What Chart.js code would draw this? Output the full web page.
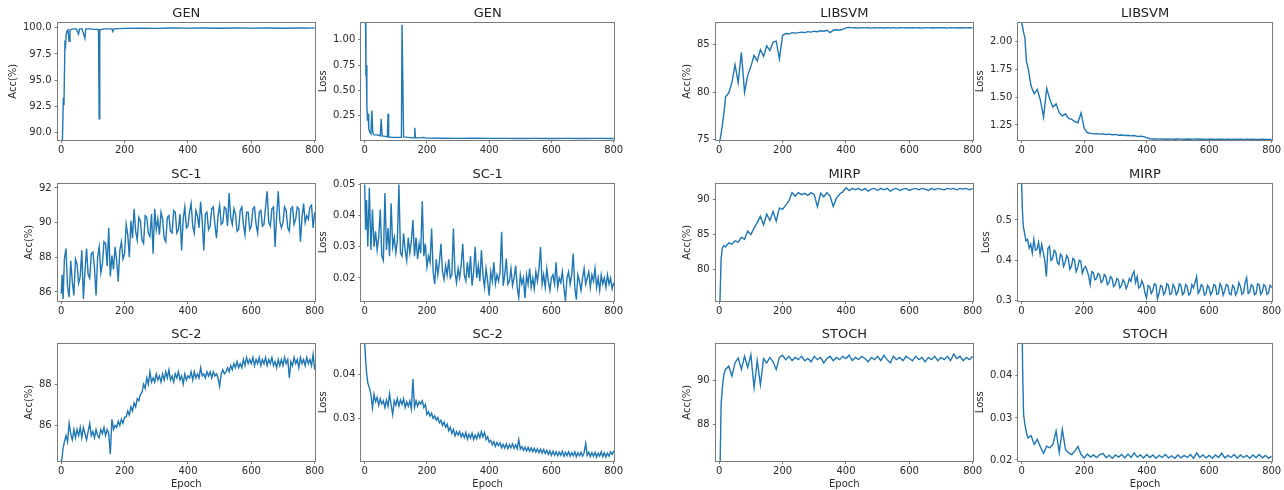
<!DOCTYPE html>
<html>
<head>
<meta charset="utf-8">
<script src="https://cdn.jsdelivr.net/npm/chart.js@4.4.1/dist/chart.umd.min.js"></script>
<style>
  html, body { margin: 0; padding: 0; background: #fff; }
  #page { position: relative; width: 1284px; height: 490px; overflow: hidden; }
  #page canvas { position: absolute; }
</style>
</head>
<body>
<div id="page"></div>
<script>
// ---- data ----
const xTicks = ['0', '200', '400', '600', '800'];

// epoch grid, 10 apart
const epochs = [0, 3, 6, 10, 15, 20,
  30, 40, 50, 60, 70, 80, 90, 100,
  110, 120, 130, 140, 150, 160, 170, 180, 190, 200,
  210, 220, 230, 240, 250, 260, 270, 280, 290, 300,
  310, 320, 330, 340, 350, 360, 370, 380, 390, 400,
  410, 420, 430, 440, 450, 460, 470, 480, 490, 500,
  510, 520, 530, 540, 550, 560, 570, 580, 590, 600,
  610, 620, 630, 640, 650, 660, 670, 680, 690, 700,
  710, 720, 730, 740, 750, 760, 770, 780, 790, 800];

// epoch grid, 5 apart (for the noisiest runs)
const epochsFine = [0, 3, 6, 10, 15, 20,
  25, 30, 35, 40, 45, 50, 55, 60, 65, 70, 75, 80, 85, 90, 95, 100,
  105, 110, 115, 120, 125, 130, 135, 140, 145, 150, 155, 160, 165, 170, 175, 180, 185, 190, 195, 200,
  205, 210, 215, 220, 225, 230, 235, 240, 245, 250, 255, 260, 265, 270, 275, 280, 285, 290, 295, 300,
  305, 310, 315, 320, 325, 330, 335, 340, 345, 350, 355, 360, 365, 370, 375, 380, 385, 390, 395, 400,
  405, 410, 415, 420, 425, 430, 435, 440, 445, 450, 455, 460, 465, 470, 475, 480, 485, 490, 495, 500,
  505, 510, 515, 520, 525, 530, 535, 540, 545, 550, 555, 560, 565, 570, 575, 580, 585, 590, 595, 600,
  605, 610, 615, 620, 625, 630, 635, 640, 645, 650, 655, 660, 665, 670, 675, 680, 685, 690, 695, 700,
  705, 710, 715, 720, 725, 730, 735, 740, 745, 750, 755, 760, 765, 770, 775, 780, 785, 790, 795, 800];

// GEN
const genAccEpochs = [0, 4, 7, 9, 12, 14, 16, 19, 22, 25, 28, 32, 40, 48, 55, 58, 66, 75, 78, 90,
  105, 118, 120, 122, 135, 150, 160, 163, 166, 180, 200, 250, 300, 350, 400, 450, 500, 550, 600, 650,
  700, 750, 800];
const genAcc = [60, 89, 93.3, 92.6, 98.5, 98.3, 99.4, 99.7, 99.8, 98.7, 99.8, 99.85, 99.9, 99.9, 99.4, 99.9, 99.9, 99.0, 99.9, 99.9,
  99.85, 99.85, 91.3, 99.8, 99.9, 99.9, 99.9, 99.65, 99.9, 99.92, 99.95, 99.97, 99.95, 99.98, 99.97, 99.98, 99.96, 99.98, 99.97, 99.98,
  99.96, 99.98, 99.97];
const genAccTicks = ['90.0', '92.5', '95.0', '97.5', '100.0'];

const genLossEpochs = [0, 2, 4, 5, 7, 9, 11, 13, 16, 20, 23, 26, 30, 40, 50, 53, 56, 65, 73, 75,
  77, 90, 105, 116, 118, 120, 125, 140, 155, 159, 161, 163, 175, 190, 195, 200, 250, 300, 350, 400,
  450, 500, 550, 600, 650, 700, 750, 800];
const genLoss = [2.5, 1.5, 0.64, 0.75, 0.35, 0.2, 0.27, 0.12, 0.09, 0.07, 0.30, 0.08, 0.06, 0.06, 0.05, 0.22, 0.05, 0.045, 0.04, 0.27,
  0.04, 0.035, 0.035, 0.035, 0.035, 1.15, 0.04, 0.035, 0.03, 0.03, 0.13, 0.03, 0.03, 0.035, 0.03, 0.028, 0.026, 0.025, 0.026, 0.025,
  0.025, 0.024, 0.025, 0.024, 0.025, 0.024, 0.025, 0.024];
const genLossTicks = ['0.25', '0.50', '0.75', '1.00'];

// LIBSVM
const libAcc = [74.5, 75.0, 75.6, 76.5, 77.8, 79.5,
  79.9, 81.0, 82.9, 81.0, 84.2, 80.0, 81.8, 82.7,
  83.9, 83.3, 84.5, 83.8, 84.9, 84.4, 85.3, 85.4, 83.5, 86.0,
  86.2, 86.15, 86.3, 86.25, 86.3, 86.35, 86.3, 86.4, 86.35, 86.45,
  86.4, 86.5, 86.45, 86.55, 86.3, 86.55, 86.6, 86.55, 86.65, 86.8,
  86.85, 86.8, 86.82, 86.78, 86.83, 86.8, 86.82, 86.78, 86.83, 86.8,
  86.82, 86.79, 86.83, 86.8, 86.82, 86.78, 86.83, 86.8, 86.82, 86.79,
  86.83, 86.8, 86.82, 86.78, 86.83, 86.8, 86.82, 86.79, 86.83, 86.8,
  86.82, 86.78, 86.83, 86.8, 86.82, 86.79, 86.83, 86.8, 86.82, 86.8];
const libAccTicks = ['75', '80', '85'];

const libLoss = [2.17, 2.13, 2.08, 2.04, 1.82, 1.77,
  1.60, 1.53, 1.57, 1.47, 1.32, 1.58, 1.48, 1.41,
  1.44, 1.36, 1.33, 1.35, 1.31, 1.30, 1.28, 1.27, 1.36, 1.22,
  1.18, 1.175, 1.17, 1.172, 1.168, 1.17, 1.165, 1.168, 1.162, 1.165,
  1.158, 1.16, 1.155, 1.158, 1.152, 1.155, 1.148, 1.15, 1.145, 1.136,
  1.126, 1.124, 1.125, 1.123, 1.124, 1.122, 1.124, 1.123, 1.122, 1.124,
  1.123, 1.122, 1.124, 1.122, 1.123, 1.124, 1.122, 1.123, 1.121, 1.123,
  1.122, 1.121, 1.123, 1.122, 1.121, 1.122, 1.121, 1.122, 1.121, 1.122,
  1.121, 1.122, 1.121, 1.122, 1.121, 1.121, 1.122, 1.121, 1.121, 1.121];
const libLossTicks = ['1.25', '1.50', '1.75', '2.00'];

// SC-1 (on epochsFine)
const sc1Acc = [85.9, 87.0, 85.6, 87.9, 88.5, 86.3,
  85.7, 87.8, 86.6, 85.8, 87.9, 87.6, 86.5, 86.9, 88.4, 85.6, 87.2, 88.5, 87.0, 86.8, 88.2, 88.3,
  87.4, 85.8, 88.0, 88.6, 87.1, 87.6, 88.9, 88.8, 87.5, 89.7, 86.9, 88.1, 87.3, 88.6, 87.8, 86.6, 88.4, 88.9, 87.9, 88.2,
  89.9, 89.3, 88.0, 90.1, 89.1, 90.8, 89.5, 89.0, 90.3, 90.1, 89.0, 88.8, 90.4, 90.3, 89.4, 89.2, 90.5, 88.2, 90.8, 89.6,
  90.2, 89.3, 90.6, 90.2, 89.1, 88.9, 90.3, 90.4, 89.5, 89.4, 90.7, 90.6, 89.4, 89.6, 90.5, 88.4, 90.2, 90.9, 89.7, 89.8,
  90.6, 91.1, 89.8, 89.4, 90.7, 90.4, 89.7, 91.2, 90.1, 88.4, 90.5, 90.6, 89.6, 89.8, 90.8, 90.9, 89.9, 89.1, 90.4, 91.0,
  89.9, 90.0, 90.9, 90.8, 89.8, 91.7, 90.3, 89.9, 90.8, 90.5, 89.5, 89.6, 90.7, 90.9, 89.9, 89.3, 90.6, 90.6, 89.6, 89.8,
  90.8, 90.9, 89.9, 89.4, 90.6, 90.7, 89.8, 89.9, 90.9, 91.8, 90.0, 89.8, 90.8, 90.9, 88.6, 90.4, 91.8, 90.1, 89.7, 90.0,
  90.9, 90.7, 89.7, 89.5, 90.8, 90.9, 89.9, 90.2, 90.9, 90.8, 88.9, 90.3, 91.1, 90.0, 90.4, 90.2, 90.9, 91.0, 89.7, 90.6];
const sc1AccTicks = ['86', '88', '90', '92'];

const sc1Loss = [0.0500, 0.0354, 0.0450, 0.0300, 0.0490, 0.0290,
  0.0420, 0.0300, 0.0350, 0.0290, 0.0330, 0.0420, 0.0270, 0.0256, 0.0473, 0.0290, 0.0360, 0.0270, 0.0440, 0.0300, 0.0330, 0.0280,
  0.0320, 0.0500, 0.0280, 0.0270, 0.0343, 0.0290, 0.0256, 0.0330, 0.0280, 0.0320, 0.0386, 0.0270, 0.0330, 0.0260, 0.0310, 0.0280, 0.0446, 0.0270, 0.0310, 0.0235,
  0.0270, 0.0250, 0.0359, 0.0220, 0.0180, 0.0260, 0.0210, 0.0250, 0.0310, 0.0220, 0.0195, 0.0240, 0.0210, 0.0260, 0.0200, 0.0210, 0.0359, 0.0220, 0.0185, 0.0230,
  0.0200, 0.0240, 0.0310, 0.0210, 0.0190, 0.0250, 0.0200, 0.0270, 0.0175, 0.0220, 0.0300, 0.0200, 0.0240, 0.0190, 0.0290, 0.0210, 0.0170, 0.0230, 0.0190, 0.0143,
  0.0220, 0.0190, 0.0250, 0.0180, 0.0210, 0.0190, 0.0220, 0.0348, 0.0175, 0.0210, 0.0262, 0.0180, 0.0190, 0.0230, 0.0175, 0.0200, 0.0240, 0.0170, 0.0137, 0.0210,
  0.0180, 0.0200, 0.0135, 0.0210, 0.0180, 0.0230, 0.0170, 0.0200, 0.0165, 0.0220, 0.0190, 0.0230, 0.0300, 0.0180, 0.0210, 0.0170, 0.0230, 0.0190, 0.0160, 0.0200,
  0.0210, 0.0180, 0.0250, 0.0170, 0.0200, 0.0185, 0.0220, 0.0170, 0.0126, 0.0200, 0.0220, 0.0180, 0.0210, 0.0278, 0.0170, 0.0130, 0.0210, 0.0190, 0.0160, 0.0200,
  0.0230, 0.0180, 0.0200, 0.0220, 0.0170, 0.0210, 0.0190, 0.0230, 0.0170, 0.0200, 0.0160, 0.0210, 0.0180, 0.0200, 0.0170, 0.0210, 0.0180, 0.0200, 0.0165, 0.0185];
const sc1LossTicks = ['0.02', '0.03', '0.04', '0.05'];

// MIRP
const mirpAcc = [72, 76.5, 81.5, 83.1, 83.4, 83.2,
  83.8, 83.6, 84.1, 83.9, 84.6, 84.3, 85.5, 85.0,
  85.9, 86.7, 87.6, 86.4, 87.9, 87.0, 88.3, 86.9, 88.8, 88.6,
  89.2, 89.8, 91.0, 90.5, 91.0, 90.7, 90.9, 90.6, 91.0, 90.7,
  89.0, 90.9, 90.4, 91.0, 90.5, 89.0, 90.2, 90.8, 91.1, 91.7,
  91.3, 91.6, 91.4, 91.6, 91.3, 91.6, 91.2, 91.5, 91.6, 91.3,
  91.6, 91.4, 91.6, 91.2, 91.5, 91.6, 91.3, 91.5, 91.6, 91.3,
  91.5, 91.6, 91.4, 91.6, 91.5, 91.3, 91.6, 91.4, 91.6, 91.5,
  91.4, 91.6, 91.5, 91.6, 91.4, 91.6, 91.5, 91.6, 91.4, 91.6];
const mirpAccTicks = ['80', '85', '90'];

// (on epochsFine)
const mirpLoss = [0.620, 0.532, 0.485, 0.469, 0.448, 0.452,
  0.430, 0.440, 0.418, 0.452, 0.425, 0.428, 0.445, 0.415, 0.440, 0.420, 0.400, 0.360, 0.430, 0.435, 0.400, 0.405,
  0.425, 0.420, 0.395, 0.390, 0.415, 0.410, 0.385, 0.395, 0.412, 0.405, 0.378, 0.385, 0.405, 0.400, 0.372, 0.382, 0.400, 0.398, 0.368, 0.380,
  0.385, 0.375, 0.362, 0.340, 0.372, 0.370, 0.352, 0.355, 0.368, 0.365, 0.345, 0.350, 0.365, 0.360, 0.340, 0.345, 0.360, 0.355, 0.335, 0.340,
  0.355, 0.352, 0.332, 0.338, 0.352, 0.345, 0.330, 0.340, 0.355, 0.348, 0.365, 0.373, 0.345, 0.360, 0.332, 0.335, 0.350, 0.340, 0.320, 0.307,
  0.338, 0.335, 0.318, 0.325, 0.342, 0.340, 0.305, 0.318, 0.338, 0.335, 0.315, 0.322, 0.342, 0.338, 0.316, 0.318, 0.340, 0.333, 0.315, 0.322,
  0.342, 0.338, 0.315, 0.320, 0.340, 0.335, 0.314, 0.318, 0.340, 0.332, 0.345, 0.360, 0.318, 0.325, 0.340, 0.336, 0.314, 0.318, 0.338, 0.332,
  0.315, 0.322, 0.340, 0.338, 0.316, 0.318, 0.342, 0.334, 0.314, 0.325, 0.340, 0.338, 0.318, 0.315, 0.338, 0.333, 0.314, 0.322, 0.345, 0.336,
  0.316, 0.320, 0.345, 0.357, 0.318, 0.322, 0.340, 0.336, 0.315, 0.318, 0.342, 0.340, 0.316, 0.322, 0.340, 0.336, 0.316, 0.320, 0.338, 0.333];
const mirpLossTicks = ['0.3', '0.4', '0.5'];

// SC-2 (on epochsFine)
const sc2Acc = [84.2, 84.5, 84.9, 85.2, 85.5, 85.2,
  86.1, 85.6, 85.3, 85.8, 85.4, 85.8, 85.5, 85.9, 85.4, 85.9, 85.6, 85.3, 85.7, 86.1, 85.5, 85.7,
  85.4, 85.8, 85.5, 85.4, 85.8, 85.6, 85.9, 85.5, 85.8, 85.6, 84.6, 86.3, 85.8, 86.0, 85.9, 86.2, 86.0, 86.3, 86.1, 86.4,
  86.4, 86.7, 86.5, 86.9, 86.7, 87.1, 86.9, 87.3, 87.2, 87.5, 87.6, 88.0, 87.8, 88.3, 88.0, 88.6, 88.1, 88.3, 88.1, 88.5,
  88.2, 88.4, 88.1, 88.5, 88.2, 88.6, 88.3, 88.7, 88.2, 88.4, 88.1, 88.5, 88.3, 88.6, 88.2, 88.4, 88.0, 88.5, 88.2, 88.4,
  88.3, 88.6, 88.2, 88.6, 88.3, 88.5, 88.3, 88.8, 88.4, 88.5, 88.3, 88.6, 88.4, 88.6, 88.3, 88.6, 88.4, 88.5, 88.3, 87.9,
  88.5, 88.7, 88.5, 88.6, 88.8, 88.6, 88.9, 88.7, 89.0, 88.8, 89.1, 88.8, 89.0, 88.8, 89.2, 88.9, 89.3, 89.0, 89.2, 89.0,
  89.3, 88.9, 89.2, 89.0, 89.3, 88.9, 89.2, 89.0, 89.3, 88.9, 89.2, 89.0, 89.3, 88.9, 89.1, 88.8, 89.2, 88.9, 89.2, 88.9,
  89.3, 89.0, 89.2, 88.3, 89.1, 88.9, 89.3, 89.0, 89.2, 88.8, 89.3, 89.0, 89.2, 88.9, 89.3, 89.0, 89.2, 88.9, 89.45, 88.7];
const sc2AccTicks = ['86', '88'];

const sc2Loss = [0.0470, 0.0434, 0.0404, 0.0381, 0.0370, 0.0355,
  0.0324, 0.0355, 0.0338, 0.0348, 0.0330, 0.0345, 0.0333, 0.0340, 0.0325, 0.0342, 0.0328, 0.0356, 0.0330, 0.0309, 0.0340, 0.0330,
  0.0345, 0.0328, 0.0342, 0.0332, 0.0345, 0.0325, 0.0338, 0.0328, 0.0340, 0.0322, 0.0390, 0.0325, 0.0340, 0.0328, 0.0338, 0.0333, 0.0340, 0.0325, 0.0332, 0.0309,
  0.0315, 0.0305, 0.0312, 0.0300, 0.0306, 0.0296, 0.0302, 0.0290, 0.0296, 0.0284, 0.0292, 0.0280, 0.0287, 0.0272, 0.0280, 0.0266, 0.0275, 0.0260, 0.0270, 0.0262,
  0.0270, 0.0258, 0.0266, 0.0256, 0.0268, 0.0253, 0.0264, 0.0255, 0.0266, 0.0252, 0.0262, 0.0254, 0.0266, 0.0256, 0.0270, 0.0258, 0.0268, 0.0252, 0.0258, 0.0246,
  0.0250, 0.0240, 0.0247, 0.0236, 0.0245, 0.0238, 0.0244, 0.0233, 0.0241, 0.0232, 0.0242, 0.0231, 0.0240, 0.0233, 0.0242, 0.0232, 0.0240, 0.0231, 0.0252, 0.0230,
  0.0236, 0.0227, 0.0235, 0.0226, 0.0234, 0.0225, 0.0233, 0.0224, 0.0232, 0.0223, 0.0231, 0.0222, 0.0230, 0.0221, 0.0229, 0.0220, 0.0227, 0.0218, 0.0226, 0.0216,
  0.0225, 0.0216, 0.0224, 0.0215, 0.0223, 0.0216, 0.0225, 0.0214, 0.0223, 0.0215, 0.0224, 0.0214, 0.0222, 0.0215, 0.0224, 0.0213, 0.0222, 0.0215, 0.0223, 0.0214,
  0.0222, 0.0243, 0.0216, 0.0223, 0.0213, 0.0222, 0.0214, 0.0223, 0.0212, 0.0221, 0.0214, 0.0224, 0.0213, 0.0222, 0.0212, 0.0221, 0.0214, 0.0224, 0.0218, 0.0226];
const sc2LossTicks = ['0.03', '0.04'];

// STOCH
const stochAcc = [84.0, 86.3, 88.9, 89.7, 90.3, 90.5,
  90.65, 90.2, 90.8, 91.03, 90.5, 91.1, 90.6, 91.18,
  89.67, 90.9, 89.8, 91.0, 90.8, 91.05, 90.85, 90.5, 91.05, 91.15,
  90.95, 91.1, 90.9, 91.05, 90.95, 91.1, 90.9, 91.0, 90.85, 91.1,
  90.95, 91.05, 90.8, 91.0, 91.1, 90.9, 91.05, 90.95, 91.1, 91.0,
  91.15, 90.9, 91.05, 90.95, 91.1, 91.0, 90.85, 91.05, 90.95, 91.1,
  90.9, 91.15, 90.95, 90.8, 91.1, 90.95, 91.05, 90.9, 91.1, 91.0,
  90.9, 91.1, 90.95, 91.05, 90.85, 91.05, 90.95, 91.1, 90.9, 91.05,
  90.95, 91.1, 90.9, 91.2, 91.0, 91.1, 90.9, 91.05, 90.95, 91.1];
const stochAccTicks = ['88', '90'];

const stochLoss = [0.0600, 0.0414, 0.0309, 0.0285, 0.0265, 0.0252,
  0.0258, 0.0237, 0.0249, 0.0231, 0.0216, 0.0233, 0.0229, 0.0237,
  0.0269, 0.0218, 0.0273, 0.0225, 0.0217, 0.0213, 0.0221, 0.0232, 0.0213, 0.0205,
  0.0214, 0.0207, 0.0212, 0.0206, 0.0213, 0.0216, 0.0206, 0.0211, 0.0204, 0.0212,
  0.0207, 0.0213, 0.0205, 0.0214, 0.0206, 0.0217, 0.0207, 0.0212, 0.0205, 0.0213,
  0.0206, 0.0212, 0.0204, 0.0211, 0.0206, 0.0213, 0.0205, 0.0210, 0.0204, 0.0212,
  0.0205, 0.0211, 0.0206, 0.0213, 0.0204, 0.0217, 0.0206, 0.0212, 0.0205, 0.0211,
  0.0204, 0.0212, 0.0206, 0.0216, 0.0205, 0.0211, 0.0206, 0.0213, 0.0204, 0.0212,
  0.0206, 0.0211, 0.0204, 0.0212, 0.0206, 0.0213, 0.0205, 0.0211, 0.0204, 0.0209];
const stochLossTicks = ['0.02', '0.03', '0.04'];

// ---- panels: which arrays go where, with their axis limits ----
const panels = [
  { title: 'GEN', yLabel: 'Acc(%)', x: genAccEpochs, y: genAcc, ticks: genAccTicks, min: 89.27, max: 100.5, col: 0, row: 0 },
  { title: 'GEN', yLabel: 'Loss', x: genLossEpochs, y: genLoss, ticks: genLossTicks, min: 0.009, max: 1.171, col: 1, row: 0 },
  { title: 'LIBSVM', yLabel: 'Acc(%)', x: epochs, y: libAcc, ticks: libAccTicks, min: 74.93, max: 87.36, col: 2, row: 0 },
  { title: 'LIBSVM', yLabel: 'Loss', x: epochs, y: libLoss, ticks: libLossTicks, min: 1.115, max: 2.17, col: 3, row: 0 },
  { title: 'SC-1', yLabel: 'Acc(%)', x: epochsFine, y: sc1Acc, ticks: sc1AccTicks, min: 85.48, max: 92.25, col: 0, row: 1 },
  { title: 'SC-1', yLabel: 'Loss', x: epochsFine, y: sc1Loss, ticks: sc1LossTicks, min: 0.0126, max: 0.0503, col: 1, row: 1 },
  { title: 'MIRP', yLabel: 'Acc(%)', x: epochs, y: mirpAcc, ticks: mirpAccTicks, min: 75.47, max: 92.29, col: 2, row: 1 },
  { title: 'MIRP', yLabel: 'Loss', x: epochsFine, y: mirpLoss, ticks: mirpLossTicks, min: 0.2995, max: 0.59, col: 3, row: 1 },
  { title: 'SC-2', yLabel: 'Acc(%)', x: epochsFine, y: sc2Acc, ticks: sc2AccTicks, min: 84.27, max: 89.97, col: 0, row: 2 },
  { title: 'SC-2', yLabel: 'Loss', x: epochsFine, y: sc2Loss, ticks: sc2LossTicks, min: 0.0203, max: 0.04705, col: 1, row: 2 },
  { title: 'STOCH', yLabel: 'Acc(%)', x: epochs, y: stochAcc, ticks: stochAccTicks, min: 86.33, max: 91.68, col: 2, row: 2 },
  { title: 'STOCH', yLabel: 'Loss', x: epochs, y: stochLoss, ticks: stochLossTicks, min: 0.01976, max: 0.04767, col: 3, row: 2 }
];

// plot-area edges on the page (px)
const cols = [[58, 315], [361, 614], [716, 973], [1018, 1272]];
const rows = [[23, 140], [184, 301], [344, 461]];

Chart.defaults.font.family = "'DejaVu Sans', sans-serif";
Chart.defaults.font.size = 10;
Chart.defaults.color = '#2b2b2b';

const spineColor = '#7a7a7a';

// matplotlib-style box around the axes
const framePlugin = {
  id: 'frame',
  afterDatasetsDraw(chart) {
    const a = chart.chartArea;
    const ctx = chart.ctx;
    ctx.save();
    ctx.strokeStyle = spineColor;
    ctx.lineWidth = 1;
    ctx.strokeRect(Math.round(a.left) - 0.5, Math.round(a.top) - 0.5,
      Math.round(a.right - a.left) + 1, Math.round(a.bottom - a.top) + 1);
    ctx.restore();
  }
};

function makeConfig(p) {
  return {
    type: 'line',
    data: {
      datasets: [{
        data: p.x.map((e, i) => ({ x: e, y: p.y[i] })),
        borderColor: '#1f77b4',
        borderWidth: 1.4,
        pointRadius: 0,
        tension: 0,
        fill: false
      }]
    },
    options: {
      responsive: false,
      maintainAspectRatio: false,
      animation: false,
      events: [],
      layout: { padding: { right: 14 } },
      plugins: {
        legend: { display: false },
        tooltip: { enabled: false },
        title: {
          display: true, text: p.title, fullSize: false,
          font: { size: 13, weight: 'normal' }, color: '#222',
          padding: { top: 2, bottom: 1 }
        }
      },
      scales: {
        x: {
          type: 'linear', min: -11, max: 801,
          afterBuildTicks: s => { s.ticks = xTicks.map(t => ({ value: Number(t) })); },
          ticks: { autoSkip: false, maxRotation: 0, padding: 1, callback: (v, i) => xTicks[i] },
          grid: { drawOnChartArea: false, tickLength: 3, color: spineColor },
          border: { display: false },
          title: { display: p.row === 2, text: 'Epoch', padding: { top: 0, bottom: 0 } }
        },
        y: {
          min: p.min, max: p.max,
          afterBuildTicks: s => { s.ticks = p.ticks.map(t => ({ value: Number(t) })); },
          ticks: { autoSkip: false, padding: 3, callback: (v, i) => p.ticks[i] },
          grid: { drawOnChartArea: false, tickLength: 3, color: spineColor },
          border: { display: false },
          title: { display: true, text: p.yLabel, padding: { top: 0, bottom: 1 } }
        }
      }
    },
    plugins: [framePlugin]
  };
}

function addCanvas(w, h) {
  const c = document.createElement('canvas');
  c.width = w; c.height = h;
  c.style.width = w + 'px'; c.style.height = h + 'px';
  document.getElementById('page').appendChild(c);
  return c;
}

// first pass measures how much room the axes take, second pass draws at the right size
panels.forEach(p => {
  const probe = addCanvas(400, 250);
  const tmp = new Chart(probe, makeConfig(p));
  const a = tmp.chartArea;
  const padL = a.left, padT = a.top, padR = 400 - a.right, padB = 250 - a.bottom;
  tmp.destroy();
  probe.remove();

  const [l, r] = cols[p.col];
  const [t, b] = rows[p.row];
  const cv = addCanvas(Math.round(padL + (r - l) + padR), Math.round(padT + (b - t) + padB));
  cv.style.left = Math.round(l - padL) + 'px';
  cv.style.top = Math.round(t - padT) + 'px';
  new Chart(cv, makeConfig(p));
});
</script>
</body>
</html>
